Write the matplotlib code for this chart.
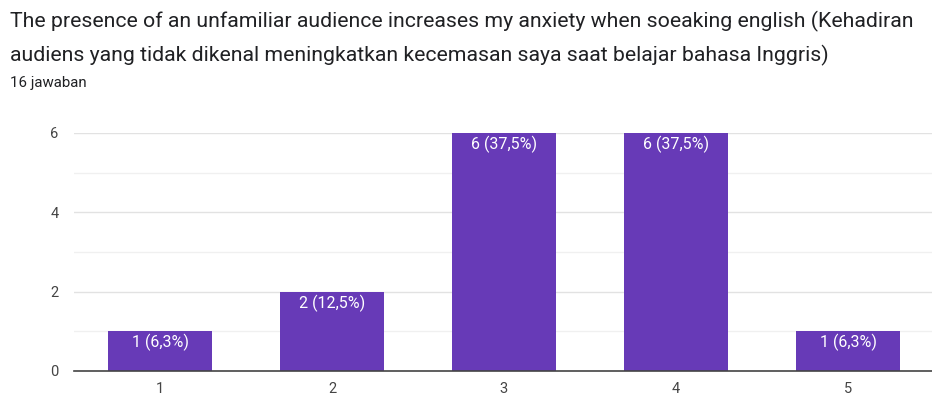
import matplotlib
matplotlib.use("Agg")
import matplotlib.pyplot as plt

categories = ["1", "2", "3", "4", "5"]
counts = [1, 2, 6, 6, 1]
labels = ["1 (6,3%)", "2 (12,5%)", "6 (37,5%)", "6 (37,5%)", "1 (6,3%)"]
yticks = [0, 2, 4, 6]
title_lines = ["The presence of an unfamiliar audience increases my anxiety when soeaking english (Kehadiran",
               "audiens yang tidak dikenal meningkatkan kecemasan saya saat belajar bahasa Inggris)"]
subtitle = "16 jawaban"

plt.rcParams['font.family'] = ['Roboto', 'DejaVu Sans']

fig = plt.figure(figsize=(9.32, 3.96), dpi=100)
W, H = 932, 396
ax = fig.add_axes([74 / W, 1 - 371 / H, (934 - 74) / W, (371 - 133) / H])

x = list(range(len(categories)))
bars = ax.bar(x, counts, width=0.61, color="#673ab7", zorder=3)
for xi, c, lab in zip(x, counts, labels):
    ax.text(xi, c - 0.07, lab, ha="center", va="top", color="white", fontsize=11.5, zorder=4)

ax.set_xlim(-0.5, 4.5)
ax.set_ylim(0, 6)
ax.set_yticks(yticks)
ax.set_yticks([1, 3, 5], minor=True)
ax.set_xticks(x)
ax.set_xticklabels(categories)
ax.grid(axis="y", which="major", color="#e2e2e2", linewidth=1, zorder=0)
ax.grid(axis="y", which="minor", color="#f0f0f0", linewidth=1, zorder=0)
for s in ["top", "right", "left"]:
    ax.spines[s].set_visible(False)
ax.spines["bottom"].set_color("#444444")
ax.spines["bottom"].set_linewidth(1.2)
ax.spines["bottom"].set_zorder(5)
ax.tick_params(axis="both", which="both", length=0, colors="#444444", labelsize=10.5)
ax.tick_params(axis="y", pad=11)
ax.tick_params(axis="x", pad=8)

fig.text(10 / W, 1 - 21 / H, title_lines[0], fontsize=15.3, color="#202124", va="center", ha="left")
fig.text(10 / W, 1 - 55 / H, title_lines[1], fontsize=15.3, color="#202124", va="center", ha="left")
fig.text(10 / W, 1 - 83 / H, subtitle, fontsize=10.8, color="#202124", va="center", ha="left")

fig.savefig("out.png", dpi=100)
